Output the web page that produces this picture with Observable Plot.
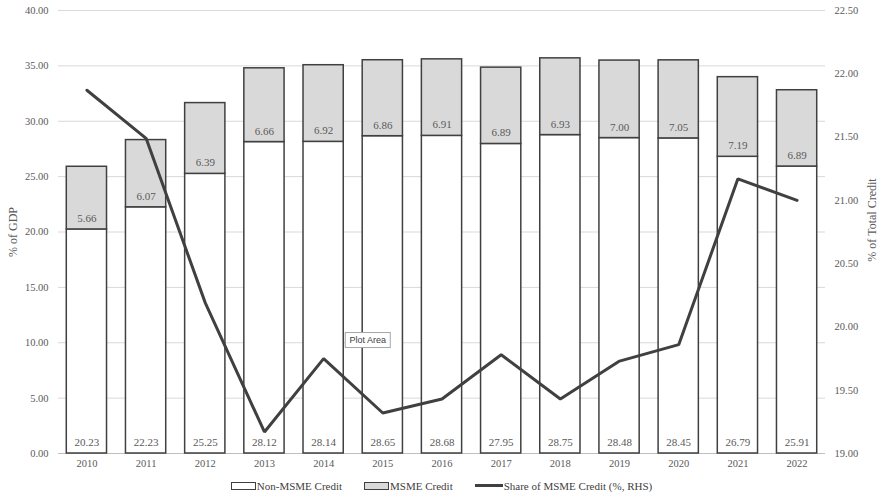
<!DOCTYPE html>
<html>
<head>
<meta charset="utf-8">
<script src="https://cdn.jsdelivr.net/npm/d3@7"></script>
<script src="https://cdn.jsdelivr.net/npm/@observablehq/plot@0.6"></script>
<style>
  html, body { margin: 0; padding: 0; background: #fff; }
  #wrap { width: 881px; font-family: "Liberation Serif", "Times New Roman", "DejaVu Serif", serif; }
  #chart svg text { font-family: "Liberation Serif", "Times New Roman", "DejaVu Serif", serif; }
  .legend { display: flex; justify-content: center; align-items: center; gap: 22px; height: 31px; font-size: 11px; color: #404040; padding-left: 2px; }
  .legend .item { display: flex; align-items: center; }
  .sw { width: 23px; height: 6px; border: 1.5px solid #404040; margin-right: 1px; }
  .ln { width: 28px; height: 3px; background: #404040; margin-right: 1px; }
</style>
</head>
<body>
<div id="wrap">
  <div id="chart"></div>
  <div class="legend">
    <div class="item"><div class="sw" style="background:#fff"></div>Non-MSME Credit</div>
    <div class="item"><div class="sw" style="background:#d9d9d9"></div>MSME Credit</div>
    <div class="item"><div class="ln"></div>Share of MSME Credit (%, RHS)</div>
  </div>
</div>
<script>
const years = ["2010","2011","2012","2013","2014","2015","2016","2017","2018","2019","2020","2021","2022"];
const nonMsme = [20.23, 22.23, 25.25, 28.12, 28.14, 28.65, 28.68, 27.95, 28.75, 28.48, 28.45, 26.79, 25.91];
const msme = [5.66, 6.07, 6.39, 6.66, 6.92, 6.86, 6.91, 6.89, 6.93, 7.00, 7.05, 7.19, 6.89];
const shareMsme = [21.87, 21.49, 20.19, 19.17, 19.75, 19.32, 19.43, 19.78, 19.43, 19.73, 19.86, 21.17, 21.00];
const leftTicks = [0, 5, 10, 15, 20, 25, 30, 35, 40];
const rightTicks = [19.0, 19.5, 20.0, 20.5, 21.0, 21.5, 22.0, 22.5];

const LMIN = 0, LMAX = 40, RMIN = 19, RMAX = 22.5;
const toLeft = v => LMIN + (v - RMIN) / (RMAX - RMIN) * (LMAX - LMIN);
const fromLeft = v => RMIN + (v - LMIN) / (LMAX - LMIN) * (RMAX - RMIN);

const data = years.map((y, i) => ({
  year: y, non: nonMsme[i], msme: msme[i], total: nonMsme[i] + msme[i], share: shareMsme[i]
}));

const textColor = "#595959";
const dark = "#404040";

// "Plot Area" hover-tag annotation (Excel artifact in the reference)
function plotAreaTag(index, scales) {
  const g = document.createElementNS("http://www.w3.org/2000/svg", "g");
  const left = scales.x("2014") + scales.x.bandwidth() + 2;
  const cy = scales.y(10.2);
  g.innerHTML = `<rect x="${left}" y="${cy - 7.5}" width="45" height="15" fill="#fff" stroke="#a6a6a6" stroke-width="1"></rect>
  <text x="${left + 22.5}" y="${cy}" dy="0.35em" text-anchor="middle" style="font-family: 'Liberation Sans', Arial, sans-serif" font-size="9" fill="#404040">Plot Area</text>`;
  return g;
}

const chart = Plot.plot({
  width: 881,
  height: 470,
  marginTop: 10,
  marginBottom: 17,
  marginLeft: 58,
  marginRight: 56,
  style: { fontFamily: "'Liberation Serif', 'Times New Roman', serif", fontSize: "11px", color: textColor, background: "#fff" },
  x: { domain: years, paddingInner: 0.32, paddingOuter: 0.14, round: false, label: null },
  y: { domain: [LMIN, LMAX], label: null },
  marks: [
    Plot.gridY(leftTicks, { stroke: "#d9d9d9", strokeOpacity: 1, strokeWidth: 1 }),
    Plot.ruleY([0], { stroke: "#bfbfbf", strokeWidth: 1 }),
    Plot.axisY(leftTicks, { anchor: "left", tickSize: 0, tickPadding: 10, tickFormat: d => d.toFixed(2), label: null, fill: textColor, fontSize: 10.5 }),
    Plot.axisY(rightTicks.map(toLeft), { anchor: "right", tickSize: 0, tickPadding: 9, tickFormat: d => fromLeft(d).toFixed(2), label: null, fill: textColor, fontSize: 10.5 }),
    Plot.axisX({ tickSize: 0, tickPadding: 6, label: null, fill: textColor, fontSize: 10.5 }),
    Plot.text(["% of GDP"], { frameAnchor: "left", textAnchor: "middle", dx: -45, dy: 0, rotate: -90, fontSize: 12, fill: textColor }),
    Plot.text(["% of Total Credit"], { frameAnchor: "right", textAnchor: "middle", dx: 47, dy: -12, rotate: -90, fontSize: 12, fill: textColor }),
    Plot.barY(data, { x: "year", y1: 0, y2: "non", fill: "#ffffff", stroke: dark, strokeWidth: 1.5 }),
    Plot.barY(data, { x: "year", y1: "non", y2: "total", fill: "#d9d9d9", stroke: dark, strokeWidth: 1.5 }),
    Plot.text(data, { x: "year", y: 0, text: d => d.non.toFixed(2), dy: -11, fill: textColor, fontSize: 11 }),
    Plot.text(data, { x: "year", y: "non", text: d => d.msme.toFixed(2), dy: -11, fill: textColor, fontSize: 11 }),
    Plot.line(data, { x: "year", y: d => toLeft(d.share), stroke: dark, strokeWidth: 3, strokeLinejoin: "miter" }),
    plotAreaTag
  ]
});
document.getElementById("chart").appendChild(chart);
</script>
</body>
</html>
